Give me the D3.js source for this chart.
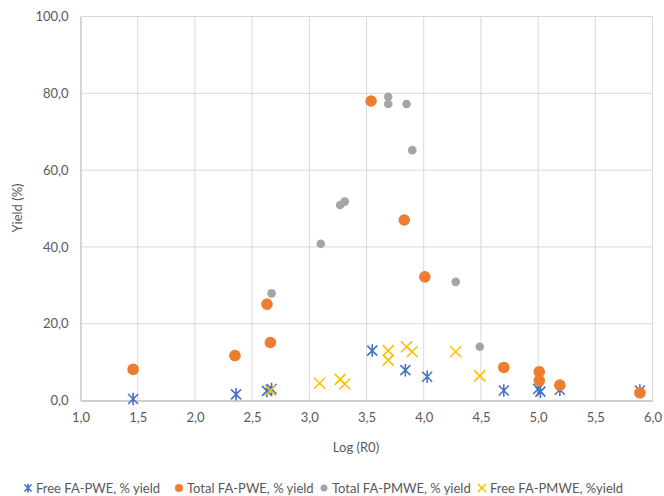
<!DOCTYPE html>
<html>
<head>
<meta charset="utf-8">
<script src="https://cdn.jsdelivr.net/npm/d3@7"></script>
<style>
  body { margin: 0; background: #fff; }
  svg { font-family: "Lato", "Open Sans", sans-serif; }
</style>
</head>
<body>
<svg id="chart" width="664" height="496"></svg>
<script>
// Free FA-PWE, % yield
const freePWE = [
  [1.46, 0.4], [2.36, 1.6], [2.63, 2.5], [2.67, 3.0], [3.55, 13.0],
  [3.84, 7.9], [4.03, 6.2], [4.70, 2.6], [5.00, 3.0], [5.02, 2.3],
  [5.19, 2.8], [5.89, 2.6]
];
// Total FA-PWE, % yield
const totalPWE = [
  [1.46, 8.1], [2.35, 11.7], [2.63, 25.1], [2.66, 15.1], [3.54, 78.0],
  [3.83, 47.0], [4.01, 32.2], [4.70, 8.6], [5.01, 7.5], [5.01, 5.2],
  [5.19, 4.0], [5.89, 2.0]
];
// Total FA-PMWE, % yield
const totalPMWE = [
  [2.67, 27.9], [3.10, 40.8], [3.27, 50.9], [3.31, 51.8], [3.69, 79.1],
  [3.69, 77.2], [3.85, 77.2], [3.90, 65.2], [4.28, 30.9], [4.49, 14.0]
];
// Free FA-PMWE, %yield
const freePMWE = [
  [2.66, 2.6], [3.09, 4.5], [3.27, 5.5], [3.31, 4.3], [3.69, 13.0],
  [3.69, 10.5], [3.85, 14.0], [3.90, 12.7], [4.28, 12.7], [4.49, 6.4]
];

const xTicks = [1, 1.5, 2, 2.5, 3, 3.5, 4, 4.5, 5, 5.5, 6];
const yTicks = [0, 20, 40, 60, 80, 100];
const seriesNames = ["Free FA-PWE, % yield", "Total FA-PWE, % yield", "Total FA-PMWE, % yield", "Free FA-PMWE, %yield"];

const svg = d3.select("#chart");
const fmt = (v) => d3.format(".1f")(v).replace(".", ",");

const x = d3.scaleLinear().domain([1, 6]).range([80.5, 652.5]);
const y = d3.scaleLinear().domain([0, 100]).range([400.5, 16.5]);

const textColor = "#595959";
const gridColor = "#d9d9d9";

// gridlines
svg.append("g")
  .selectAll("line.h")
  .data(yTicks.filter((d) => d > 0))
  .enter()
  .append("line")
  .attr("x1", x(1)).attr("x2", x(6))
  .attr("y1", (d) => y(d)).attr("y2", (d) => y(d))
  .attr("stroke", gridColor).attr("stroke-width", 1);

svg.append("g")
  .selectAll("line.v")
  .data(xTicks.filter((d) => d > 1))
  .enter()
  .append("line")
  .attr("x1", (d) => x(d)).attr("x2", (d) => x(d))
  .attr("y1", y(0)).attr("y2", y(100))
  .attr("stroke", gridColor).attr("stroke-width", 1);

// axes
const xAxis = svg.append("g")
  .attr("transform", `translate(0,${y(0)})`)
  .call(d3.axisBottom(x).tickValues(xTicks).tickFormat(fmt).tickSize(0).tickPadding(12));
const yAxis = svg.append("g")
  .attr("transform", `translate(${x(1)},0)`)
  .call(d3.axisLeft(y).tickValues(yTicks).tickFormat(fmt).tickSize(0).tickPadding(12));

[xAxis, yAxis].forEach((a) => {
  a.select(".domain").attr("stroke", "#bfbfbf").attr("stroke-width", 1.3);
  a.selectAll("text").attr("fill", textColor).style("font-size", "13px").style("font-family", "Lato, sans-serif");
});

svg.append("text")
  .attr("x", 356).attr("y", 452)
  .attr("text-anchor", "middle")
  .attr("fill", textColor).style("font-size", "13px")
  .text("Log (R0)");

svg.append("text")
  .attr("transform", "translate(22,208) rotate(-90)")
  .attr("text-anchor", "middle")
  .attr("fill", textColor).style("font-size", "13px")
  .text("Yield (%)");

// marker shapes
function asterisk(g, s) {
  g.append("path")
    .attr("d", `M${-s},${-s}L${s},${s}M${-s},${s}L${s},${-s}M0,${-s * 1.25}L0,${s * 1.25}`)
    .attr("stroke", "#4472c4").attr("stroke-width", 1.6).attr("fill", "none");
}
function cross(g, s) {
  g.append("path")
    .attr("d", `M${-s},${-s}L${s},${s}M${-s},${s}L${s},${-s}`)
    .attr("stroke", "#ffc000").attr("stroke-width", 1.6).attr("fill", "none");
}

const pts = svg.append("g");

pts.selectAll(".s1").data(freePWE).enter().append("g")
  .attr("transform", (d) => `translate(${x(d[0])},${y(d[1])})`)
  .each(function () { asterisk(d3.select(this), 5); });

pts.selectAll(".s2").data(totalPWE).enter().append("circle")
  .attr("cx", (d) => x(d[0])).attr("cy", (d) => y(d[1]))
  .attr("r", 5.8).attr("fill", "#ed7d31");

pts.selectAll(".s3").data(totalPMWE).enter().append("circle")
  .attr("cx", (d) => x(d[0])).attr("cy", (d) => y(d[1]))
  .attr("r", 4.3).attr("fill", "#a5a5a5");

pts.selectAll(".s4").data(freePMWE).enter().append("g")
  .attr("transform", (d) => `translate(${x(d[0])},${y(d[1])})`)
  .each(function () { cross(d3.select(this), 5.5); });

// legend
const legendX = [28, 179, 324, 482];
const legend = svg.append("g").attr("transform", "translate(0,488)");
seriesNames.forEach((name, i) => {
  const g = legend.append("g").attr("transform", `translate(${legendX[i]},0)`);
  if (i === 0) asterisk(g, 3.5);
  if (i === 1) g.append("circle").attr("r", 4).attr("fill", "#ed7d31");
  if (i === 2) g.append("circle").attr("r", 3.5).attr("fill", "#a5a5a5");
  if (i === 3) cross(g, 4);
  g.append("text")
    .attr("x", 8).attr("y", 4.5)
    .attr("fill", textColor).style("font-size", "13px")
    .text(name);
});
</script>
</body>
</html>
